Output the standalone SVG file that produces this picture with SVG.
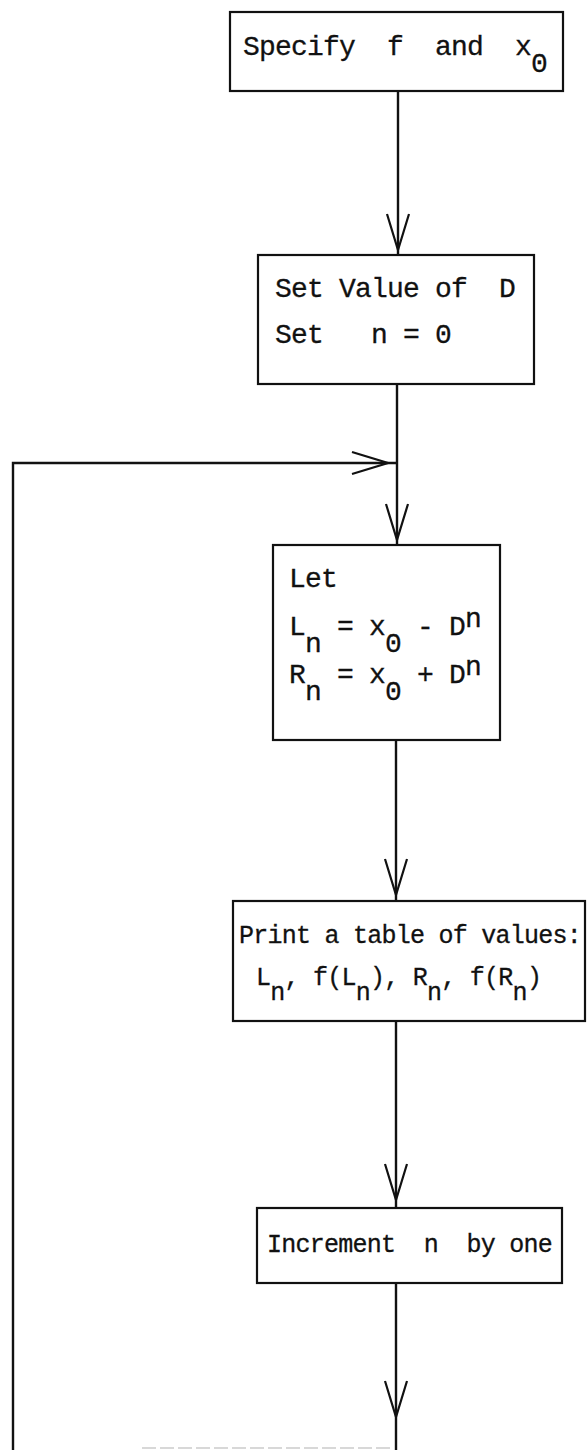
<svg xmlns="http://www.w3.org/2000/svg" xmlns:xlink="http://www.w3.org/1999/xlink" width="587" height="1450" viewBox="0 0 587 1450">
<style>
.box{fill:none;stroke:#111;stroke-width:2.2}
.t{font-family:"Liberation Mono","Courier New",monospace;font-size:28px;letter-spacing:-0.8px;fill:#111;stroke:#111;stroke-width:0.3}
.t4{font-family:"Liberation Mono","Courier New",monospace;font-size:25px;letter-spacing:-0.75px;fill:#111;stroke:#111;stroke-width:0.3}
.ln{fill:none;stroke:#111;stroke-width:2.4}
.ah{fill:none;stroke:#111;stroke-width:2.2;stroke-linejoin:miter}
</style>
<defs>
<path id="ahd" class="ah" d="M-11,-36 L0,0 L11,-36"/>
</defs>
<rect width="587" height="1450" fill="#fff"/>
<g id="connectors">
<path class="ln" d="M398,91 V255"/>
<use xlink:href="#ahd" transform="translate(398,250)"/>
<path class="ln" d="M397,384 V546"/>
<use xlink:href="#ahd" transform="translate(397,540)"/>
<path class="ln" d="M13,1450 V463 H397"/>
<use xlink:href="#ahd" transform="translate(388,463) rotate(-90)"/>
<path class="ln" d="M396,740 V901"/>
<use xlink:href="#ahd" transform="translate(396,895)"/>
<path class="ln" d="M396,1021 V1208"/>
<use xlink:href="#ahd" transform="translate(396,1200)"/>
<path class="ln" d="M396,1283 V1450"/>
<use xlink:href="#ahd" transform="translate(396,1417)"/>
<path d="M142,1448 H390" stroke="#ccc" stroke-width="1.5" stroke-dasharray="14,4"/>
</g>
<g id="n1">
<rect class="box" x="230" y="12" width="333" height="79"/>
<text class="t" xml:space="preserve" x="243" y="55">Specify  f  and  x<tspan dy="17">0</tspan></text>
</g>
<g id="n2">
<rect class="box" x="258" y="255" width="276" height="129"/>
<text class="t" xml:space="preserve" x="275" y="297">Set Value of  D</text>
<text class="t" xml:space="preserve" x="275" y="343">Set   n = 0</text>
</g>
<g id="n3">
<rect class="box" x="273" y="545" width="227" height="195"/>
<text class="t" xml:space="preserve" x="289" y="587">Let</text>
<text class="t" xml:space="preserve" x="289" y="635">L<tspan dy="17">n</tspan><tspan dy="-17"> = x</tspan><tspan dy="17">0</tspan><tspan dy="-17"> - D</tspan><tspan dy="-8">n</tspan></text>
<text class="t" xml:space="preserve" x="289" y="683">R<tspan dy="17">n</tspan><tspan dy="-17"> = x</tspan><tspan dy="17">0</tspan><tspan dy="-17"> + D</tspan><tspan dy="-8">n</tspan></text>
</g>
<g id="n4">
<rect class="box" x="233" y="901" width="352" height="120"/>
<text class="t4" xml:space="preserve" x="239" y="943">Print a table of values:</text>
<text class="t4" xml:space="preserve" x="256" y="985">L<tspan dy="15">n</tspan><tspan dy="-15">, f(L</tspan><tspan dy="15">n</tspan><tspan dy="-15">), R</tspan><tspan dy="15">n</tspan><tspan dy="-15">, f(R</tspan><tspan dy="15">n</tspan><tspan dy="-15">)</tspan></text>
</g>
<g id="n5">
<rect class="box" x="257" y="1208" width="305" height="75"/>
<text class="t4" xml:space="preserve" x="267" y="1252">Increment  n  by one</text>
</g>
</svg>
